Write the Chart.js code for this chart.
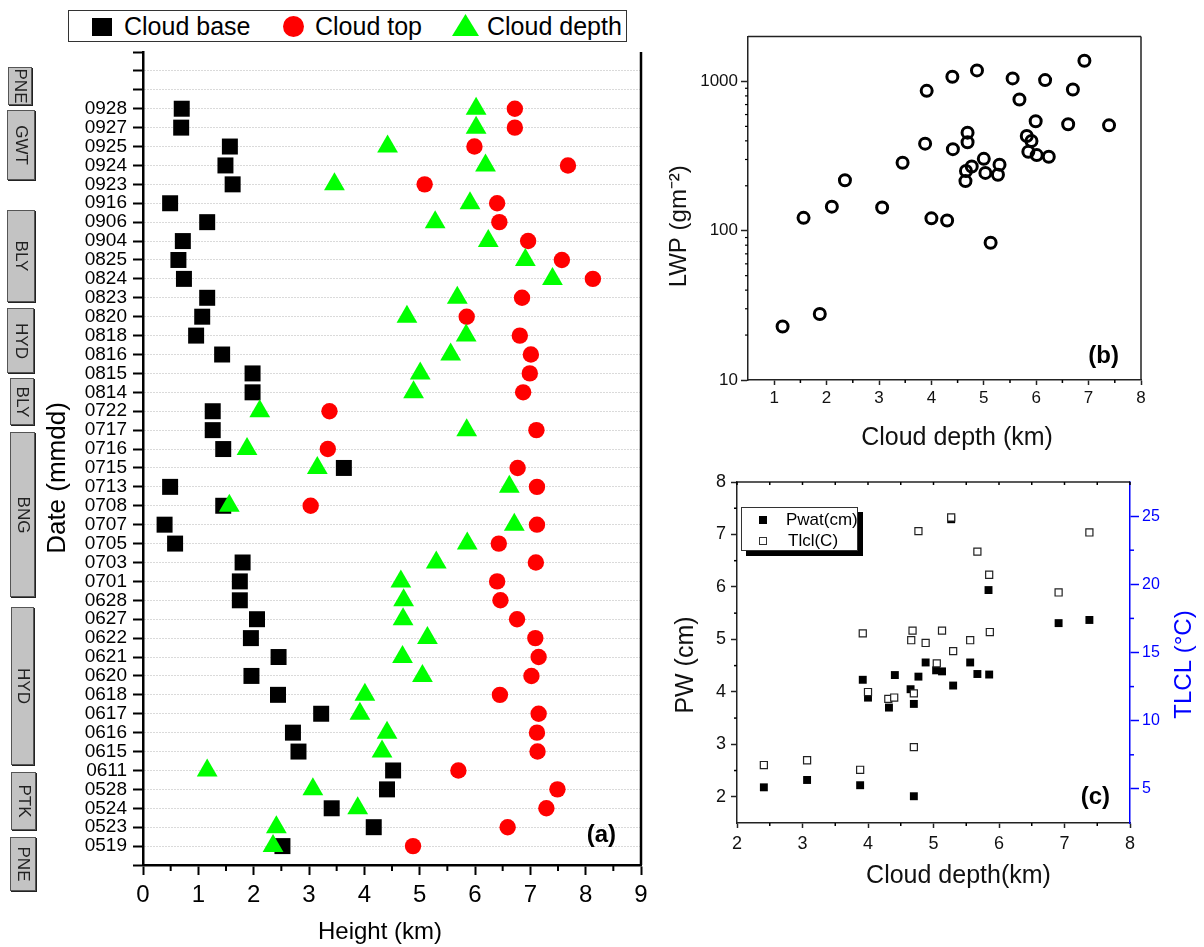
<!DOCTYPE html>
<html><head><meta charset="utf-8">
<title>Cloud base, top and depth</title>
<script src="https://cdn.jsdelivr.net/npm/chart.js@4.4.1/dist/chart.umd.min.js"></script>
<style>
html,body{margin:0;padding:0;background:#fff;}
body{position:relative;width:1204px;height:947px;overflow:hidden;font-family:"Liberation Sans",Arial,Helvetica,sans-serif;color:#000;}
canvas{position:absolute;}
.st{position:absolute;box-sizing:border-box;background:#c3c3c3;border:1px solid #555;box-shadow:1px 1px 0 #222;}
.st span{position:absolute;left:50%;top:50%;transform:translate(-50%,-50%) rotate(90deg);font-size:17px;white-space:nowrap;color:#222;line-height:1;}
#legA{position:absolute;left:68px;top:10px;width:559px;height:32px;box-sizing:border-box;border:1px solid #333;background:#fff;}
#legA .t{position:absolute;top:1px;font-size:25px;line-height:28px;white-space:nowrap;}
#legA .m{position:absolute;}
#legC{position:absolute;left:741px;top:507px;width:117px;height:44px;box-sizing:border-box;border:1px solid #333;background:#fff;box-shadow:5px 5px 0 #000;z-index:2;overflow:hidden;}
#legC .t{position:absolute;font-size:17px;line-height:20px;white-space:nowrap;}
#legC .m{position:absolute;width:8px;height:8px;box-sizing:border-box;}
</style></head>
<body>
<canvas id="cA" width="660" height="947" style="left:0;top:0;width:660px;height:947px"></canvas>
<canvas id="cB" width="544" height="460" style="left:660px;top:0;width:544px;height:460px"></canvas>
<canvas id="cC" width="544" height="487" style="left:660px;top:460px;width:544px;height:487px"></canvas>

<div id="legA">
  <div class="m" style="left:23px;top:7px;width:20px;height:18px;background:#000"></div>
  <div class="t" style="left:55px">Cloud base</div>
  <div class="m" style="left:214px;top:5px;width:21px;height:21px;border-radius:50%;background:#ff0000"></div>
  <div class="t" style="left:246px">Cloud top</div>
  <div class="m" style="left:383px;top:3px;width:27px;height:22px;background:#00ff00;clip-path:polygon(50% 0,100% 100%,0 100%)"></div>
  <div class="t" style="left:418px">Cloud depth</div>
</div>

<div id="legC">
  <div class="m" style="left:17px;top:8px;background:#000"></div>
  <div class="t" style="left:44px;top:2px">Pwat(cm)</div>
  <div class="m" style="left:17px;top:29px;border:1px solid #333;background:#fff"></div>
  <div class="t" style="left:46px;top:23px">Tlcl(C)</div>
</div>

<div class="st" style="left:8px;top:67px;width:24px;height:38px"><span>PNE</span></div>
<div class="st" style="left:7px;top:110px;width:28px;height:70px"><span>GWT</span></div>
<div class="st" style="left:7px;top:210px;width:28px;height:92px"><span>BLY</span></div>
<div class="st" style="left:7px;top:308px;width:27px;height:65px"><span>HYD</span></div>
<div class="st" style="left:10px;top:378px;width:24px;height:47px"><span>BLY</span></div>
<div class="st" style="left:10px;top:432px;width:25px;height:165px"><span>BNG</span></div>
<div class="st" style="left:11px;top:607px;width:23px;height:158px"><span>HYD</span></div>
<div class="st" style="left:11px;top:772px;width:25px;height:58px"><span>PTK</span></div>
<div class="st" style="left:10px;top:837px;width:26px;height:54px"><span>PNE</span></div>

<script>
// ---------- Panel (a): cloud base / top / depth per date ----------
const dates = ['0519','0523','0524','0528','0611','0615','0616','0617','0618','0620',
  '0621','0622','0627','0628','0701','0703','0705','0707','0708','0713',
  '0715','0716','0717','0722','0814','0815','0816','0818','0820','0823',
  '0824','0825','0904','0906','0916','0923','0924','0925','0927','0928'];
const cloudBase = [2.52,4.17,3.41,4.41,4.52,2.81,2.71,3.22,2.44,1.96,
  2.45,1.95,2.06,1.75,1.75,1.80,0.58,0.39,1.45,0.49,
  3.63,1.45,1.26,1.26,1.98,1.98,1.43,0.96,1.07,1.16,
  0.74,0.64,0.72,1.16,0.49,1.62,1.49,1.57,0.69,0.70];
const cloudTop = [4.88,6.59,7.29,7.49,5.70,7.13,7.12,7.15,6.45,7.02,
  7.15,7.09,6.76,6.46,6.40,7.10,6.43,7.12,3.03,7.12,
  6.77,3.34,7.11,3.37,6.87,6.99,7.01,6.81,5.85,6.85,
  8.13,7.57,6.96,6.44,6.40,5.09,7.68,5.99,6.72,6.72];
const cloudDepth = [2.35,2.41,3.88,3.07,1.16,4.32,4.41,3.92,4.01,5.05,
  4.69,5.14,4.70,4.71,4.66,5.30,5.86,6.71,1.56,6.62,
  3.15,1.88,5.85,2.11,4.89,5.01,5.56,5.84,4.77,5.68,
  7.40,6.91,6.24,5.28,5.91,3.46,6.19,4.42,6.02,6.02];
const heightTicks = [0,1,2,3,4,5,6,7,8,9];
const heightMinor = [0.5,1.5,2.5,3.5,4.5,5.5,6.5,7.5,8.5];

// ---------- Panel (b): LWP vs cloud depth ----------
const lwpDepth = [1.16,1.56,1.87,2.10,2.35,3.06,3.45,3.88,3.91,4.00,
  4.30,4.40,4.41,4.65,4.66,4.69,4.69,4.77,4.87,5.00,
  5.03,5.13,5.27,5.30,5.55,5.68,5.82,5.85,5.91,5.99,
  6.01,6.17,6.24,6.61,6.70,6.92,7.39];
const lwp = [22.8,122,27.7,145,218,143,285,383,865,121,
  117,1075,352,215,251,391,454,269,1186,303,
  244,83,237,277,1048,757,431,338,399,541,
  321,1021,313,517,884,1377,508];
const depthTicksB = [1,2,3,4,5,6,7,8];
const depthMinorB = [1.5,2.5,3.5,4.5,5.5,6.5,7.5];
const lwpTicks = [10,100,1000];
const lwpMinor = [20,30,40,50,60,70,80,90,200,300,400,500,600,700,800,900];

// ---------- Panel (c): PW and TLCL vs cloud depth ----------
const pwatDepth = [2.41,3.07,3.88,3.92,4.00,4.32,4.41,4.65,4.70,4.70,
  4.77,4.88,5.04,5.13,5.27,5.30,5.56,5.67,5.84,5.85,6.91,7.38];
const pwat = [2.18,2.32,2.22,4.23,3.89,3.70,4.32,4.05,3.77,2.01,
  4.29,4.56,4.41,4.39,7.29,4.12,4.56,4.34,5.94,4.33,5.31,5.37];
const tlclDepth = [2.41,3.07,3.88,3.92,4.00,4.31,4.40,4.66,4.68,4.70,
  4.70,4.77,4.88,5.05,5.13,5.27,5.30,5.56,5.67,5.85,5.86,6.91,7.38];
const tlcl = [6.75,7.1,6.4,16.4,12.1,11.6,11.7,15.9,16.6,12.0,
  8.06,23.9,15.7,14.2,16.6,24.9,15.1,15.9,22.4,20.7,16.5,19.4,23.8];
const depthTicksC = [2,3,4,5,6,7,8];
const depthMinorC = [2.5,3.5,4.5,5.5,6.5,7.5];
const pwTicks = [2,3,4,5,6,7,8];
const pwMinor = [2.5,3.5,4.5,5.5,6.5,7.5];
const tlclTicks = [5,10,15,20,25];
const tlclMinor = [7.5,12.5,17.5,22.5];

const FONT = '"Liberation Sans", Arial, Helvetica, sans-serif';
Chart.defaults.font.family = FONT;
Chart.defaults.color = '#000';
const EN = '\u2002';

function decor(cfg){
  return {id:'decor_'+cfg.name, afterDraw(chart){
    const ctx = chart.ctx, a = chart.chartArea;
    ctx.save();
    (cfg.frame||[]).forEach(f=>{
      ctx.strokeStyle=f.color; ctx.lineWidth=f.width; ctx.beginPath();
      if(f.side==='right'){ctx.moveTo(a.right,a.top);ctx.lineTo(a.right,a.bottom);}
      else if(f.side==='top'){ctx.moveTo(a.left,a.top);ctx.lineTo(a.right,a.top);}
      ctx.stroke();
    });
    (cfg.ticks||[]).forEach(m=>{
      const sc = chart.scales[m.scale];
      ctx.strokeStyle=m.color||'#000'; ctx.lineWidth=m.width||1;
      m.values.forEach(v=>{
        const p = sc.getPixelForValue(v);
        ctx.beginPath();
        if(m.side==='bottom'){ctx.moveTo(p,a.bottom);ctx.lineTo(p,a.bottom+m.len);}
        else if(m.side==='top'){ctx.moveTo(p,a.top);ctx.lineTo(p,a.top+m.len);}
        else if(m.side==='left'){ctx.moveTo(a.left,p);ctx.lineTo(a.left-m.len,p);}
        else if(m.side==='right'){ctx.moveTo(a.right,p);ctx.lineTo(a.right+m.len,p);}
        ctx.stroke();
      });
    });
    (cfg.texts||[]).forEach(t=>{
      const x=(t.xref==='right'?a.right:t.xref==='mid'?(a.left+a.right)/2:a.left)+t.dx;
      const y=(t.yref==='bottom'?a.bottom:t.yref==='mid'?(a.top+a.bottom)/2:a.top)+t.dy;
      ctx.save(); ctx.translate(x,y); if(t.rot) ctx.rotate(t.rot);
      ctx.font=t.font; ctx.fillStyle=t.color||'#000';
      ctx.textAlign=t.align||'center'; ctx.textBaseline=t.base||'middle';
      ctx.fillText(t.text,0,0); ctx.restore();
    });
    ctx.restore();
  }};
}
const setTicks = arr => s => { s.ticks = arr.map(v=>({value:v})); };

// ----- Chart (a)
const rows = Array.from({length: dates.length + 4}, (_, i) => i - 1);
new Chart(document.getElementById('cA'), {
  type:'scatter',
  data:{datasets:[
    {label:'Cloud base', data:cloudBase.map((v,i)=>({x:v,y:i})), pointStyle:'rect', pointRadius:11.3,
     backgroundColor:'#000', borderColor:'#000', borderWidth:0, order:3},
    {label:'Cloud top', data:cloudTop.map((v,i)=>({x:v,y:i})), pointStyle:'circle', pointRadius:8.2,
     backgroundColor:'#ff0000', borderColor:'#ff0000', borderWidth:0, order:2},
    {label:'Cloud depth', data:cloudDepth.map((v,i)=>({x:v,y:i})), pointStyle:'triangle', pointRadius:12,
     backgroundColor:'#00ff00', borderColor:'#00ff00', borderWidth:0, order:1}
  ]},
  options:{
    animation:false, responsive:false, events:[],
    layout:{padding:{left:40, top:52, right:19, bottom:0}},
    plugins:{legend:{display:false}, tooltip:{enabled:false}},
    scales:{
      x:{type:'linear', min:0, max:9, afterBuildTicks:setTicks(heightTicks), afterFit:s=>{s.height=82;},
        ticks:{font:{size:24}, color:'#000', padding:6, maxRotation:0},
        grid:{drawOnChartArea:false, tickLength:10, tickColor:'#000', tickWidth:2},
        border:{color:'#000', width:2.5},
        title:{display:true, text:'Height (km)'+EN+EN, font:{size:24}, color:'#000', padding:{top:0,bottom:0}}},
      y:{type:'linear', min:-1, max:42, afterBuildTicks:setTicks(rows), afterFit:s=>{s.width=103;},
        ticks:{font:{size:19}, color:'#000', padding:6, autoSkip:false, callback:v=>dates[v]||''},
        grid:{color:c=>(c.tick && c.tick.value>=0 && c.tick.value<=41)?'#b5b5b5':'rgba(0,0,0,0)',
              lineWidth:1, tickLength:10, tickColor:'#000', tickWidth:2},
        border:{color:'#000', width:2.5, dash:[1,2]},
        title:{display:true, text:'Date (mmdd)'+EN+EN+EN, font:{size:26}, color:'#000', padding:{top:2,bottom:0}}}
    }
  },
  plugins:[decor({name:'a',
    frame:[{side:'right', color:'#000', width:2.5}],
    ticks:[{scale:'x', side:'bottom', values:heightMinor, len:6, width:2}],
    texts:[{text:'(a)', xref:'right', dx:-25, yref:'bottom', dy:-18, font:'bold 24px '+FONT, align:'right', base:'bottom'}]
  })]
});

// ----- Chart (b)
new Chart(document.getElementById('cB'), {
  type:'scatter',
  data:{datasets:[{label:'LWP', data:lwpDepth.map((x,i)=>({x:x,y:lwp[i]})), pointStyle:'circle', pointRadius:5.5,
    borderWidth:3, borderColor:'#000', backgroundColor:'rgba(0,0,0,0)'}]},
  options:{
    animation:false, responsive:false, events:[],
    layout:{padding:{left:4, top:36.5, right:63, bottom:5}},
    plugins:{legend:{display:false}, tooltip:{enabled:false}},
    scales:{
      x:{type:'linear', min:0.5, max:8, afterBuildTicks:setTicks(depthTicksB), afterFit:s=>{s.height=75;},
        ticks:{font:{size:17}, color:'#111', padding:3, maxRotation:0},
        grid:{drawOnChartArea:false, tickLength:5, tickColor:'#222', tickWidth:1.5},
        border:{color:'#222', width:1.5},
        title:{display:true, text:EN+EN+'Cloud depth (km)', font:{size:25}, color:'#111', padding:{top:0,bottom:2}}},
      y:{type:'logarithmic', min:10, max:2000, afterBuildTicks:setTicks(lwpTicks), afterFit:s=>{s.width=84;},
        ticks:{font:{size:17}, color:'#111', padding:3, callback:v=>String(v)},
        grid:{drawOnChartArea:false, tickLength:7, tickColor:'#222', tickWidth:1.5},
        border:{color:'#222', width:1.5},
        title:{display:true, text:'LWP (gm\u207B\u00B2)'+EN+EN+EN, font:{size:24}, color:'#111', padding:{top:1,bottom:0}}}
    }
  },
  plugins:[decor({name:'b',
    frame:[{side:'top', color:'#222', width:1.5},{side:'right', color:'#222', width:1.5}],
    ticks:[{scale:'x', side:'bottom', values:depthMinorB, len:3, width:1.5},
           {scale:'y', side:'left', values:lwpMinor, len:3, width:1.2}],
    texts:[{text:'(b)', xref:'right', dx:-22, yref:'bottom', dy:-12, font:'bold 24px '+FONT, align:'right', base:'bottom'}]
  })]
});

// ----- Chart (c)
new Chart(document.getElementById('cC'), {
  type:'scatter',
  data:{datasets:[
    {label:'Pwat(cm)', data:pwatDepth.map((x,i)=>({x:x,y:pwat[i]})), yAxisID:'y', pointStyle:'rect', pointRadius:5.6,
     backgroundColor:'#000', borderColor:'#000', borderWidth:0, order:2},
    {label:'Tlcl(C)', data:tlclDepth.map((x,i)=>({x:x,y:tlcl[i]})), yAxisID:'y2', pointStyle:'rect', pointRadius:5,
     backgroundColor:'#fff', borderColor:'#222', borderWidth:1.2, order:1}
  ]},
  options:{
    animation:false, responsive:false, events:[],
    layout:{padding:{left:8, top:22, right:8, bottom:50}},
    plugins:{legend:{display:false}, tooltip:{enabled:false}},
    scales:{
      x:{type:'linear', min:2, max:8, afterBuildTicks:setTicks(depthTicksC), afterFit:s=>{s.height=74;},
        ticks:{font:{size:18}, color:'#111', padding:5, maxRotation:0},
        grid:{drawOnChartArea:false, tickLength:5, tickColor:'#222', tickWidth:1.5},
        border:{color:'#222', width:1.5},
        title:{display:true, text:EN+EN+EN+EN+'Cloud depth(km)', font:{size:25}, color:'#111', padding:{top:0,bottom:6}}},
      y:{type:'linear', position:'left', min:1.5, max:8, afterBuildTicks:setTicks(pwTicks), afterFit:s=>{s.width=69;},
        ticks:{font:{size:18}, color:'#111', padding:5},
        grid:{drawOnChartArea:false, tickLength:6, tickColor:'#222', tickWidth:1.5},
        border:{color:'#222', width:1.5},
        title:{display:true, text:'PW (cm)'+EN+EN, font:{size:25}, color:'#111', padding:{top:3,bottom:0}}},
      y2:{type:'linear', position:'right', min:2.5, max:27.5, afterBuildTicks:setTicks(tlclTicks), afterFit:s=>{s.width=66;},
        ticks:{font:{size:16}, color:'#0000ff', padding:3},
        grid:{drawOnChartArea:false, tickLength:9, tickColor:'#0000ff', tickWidth:1.5},
        border:{color:'#0000ff', width:1.5},
        title:{display:false}}
    }
  },
  plugins:[decor({name:'c',
    frame:[{side:'top', color:'#222', width:1.5}],
    ticks:[{scale:'x', side:'bottom', values:depthMinorC, len:3, width:1.5},
           {scale:'x', side:'top', values:depthTicksC.concat(depthMinorC), len:3, width:1.5},
           {scale:'y', side:'left', values:pwMinor, len:3, width:1.5},
           {scale:'y2', side:'right', values:tlclMinor, len:4, width:1.5, color:'#0000ff'}],
    texts:[{text:'(c)', xref:'right', dx:-20, yref:'bottom', dy:-14, font:'bold 24px '+FONT, align:'right', base:'bottom'},
           {text:'TLCL (\u00B0C)', xref:'right', dx:54, yref:'mid', dy:12, rot:-Math.PI/2, font:'24px '+FONT, color:'#0000ff'}]
  })]
});
</script>
</body></html>
